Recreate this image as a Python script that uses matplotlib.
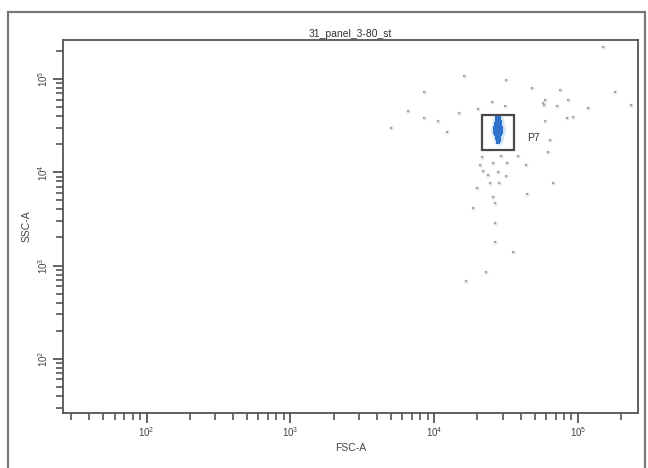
import matplotlib
matplotlib.use("Agg")
import matplotlib.pyplot as plt
from matplotlib.patches import Rectangle
from matplotlib.ticker import LogLocator, LogFormatterSciNotation, NullFormatter

plt.rcParams['font.family'] = ['Liberation Sans', 'DejaVu Sans']

title = "31_panel_3-80_st"
x_label = "FSC-A"
y_label = "SSC-A"
gate_name = "P7"

# axis range (linear FSC/SSC values, log display)
axis_min = 26.2
axis_max = 262144

# gray (ungated) events
gray_fsc = [16150, 31600, 8510, 6580, 8510, 10650, 12300, 5020, 14900, 20200,
            25300, 31100, 149700, 48000, 75100, 181300, 59100, 85400, 58200, 71600,
            117700, 234300, 84100, 92500, 59100, 64000, 62000, 21600, 29200, 38300,
            25700, 32200, 43600, 20900, 21900, 23700, 27900, 31600, 24500, 28300,
            67200, 19900, 44300, 25700, 26500, 18600, 26500, 26500, 35400, 23000,
            16700, 57300]
gray_ssc = [107700, 97700, 72600, 45400, 38200, 35500, 27000, 29800, 43200, 47700,
            56700, 51400, 220500, 80100, 76300, 72600, 59600, 59600, 52700, 51400,
            48900, 52700, 38200, 39200, 35500, 22200, 16500, 14600, 14900, 14900,
            12600, 12600, 12000, 12000, 10300, 9350, 10070, 9120, 7670, 7670,
            7670, 6780, 5850, 5430, 4680, 4140, 2860, 1790, 1400, 852,
            683, 55300]

# P7 (gated) events
p7_fsc = [27420, 28310,
          27420, 27860, 28310,
          27420, 27860, 28310, 28770,
          26980, 27860, 28310,
          26980, 27420, 27860, 28770,
          26550, 27420, 28310, 29230,
          26550, 26980, 27860, 28770, 29230,
          26550, 27420, 27860, 28310, 29230,
          26980, 27860, 28770,
          27420, 27860, 28310,
          27420, 28310,
          27860, 28310,
          27860]
p7_ssc = [38200, 38200,
          36360, 36360, 36360,
          34600, 34600, 34600, 34600,
          32940, 32940, 32940,
          31350, 31350, 31350, 31350,
          29840, 29840, 29840, 29840,
          28400, 28400, 28400, 28400, 28400,
          27030, 27030, 27030, 27030, 27030,
          25720, 25720, 25720,
          24490, 24490, 24490,
          23300, 23300,
          22180, 22180,
          21100]

# gate rectangle (FSC range, SSC range)
gate_fsc = [21550, 35960]
gate_ssc = [17340, 41100]
label_pos = [44300, 23300]

fig = plt.figure(figsize=(6.48, 4.68), dpi=100)
ax = fig.add_axes([63/648, 1 - 413/468, (638-63)/648, (413-40)/468])

ax.set_xscale('log')
ax.set_yscale('log')
ax.set_xlim(axis_min, axis_max)
ax.set_ylim(axis_min, axis_max)

ax.scatter(gray_fsc, gray_ssc, s=9, marker='o', color='#e2e2e2', linewidths=0, zorder=2)
ax.scatter(gray_fsc, gray_ssc, s=3, marker='s', color='#a6a6a6', linewidths=0, zorder=2)
ax.scatter(p7_fsc, p7_ssc, s=45, marker='o', color='#c6def5', alpha=0.3, linewidths=0, zorder=3)
ax.scatter(p7_fsc, p7_ssc, s=8, marker='s', color='#2f72cc', linewidths=0, zorder=4)

ax.add_patch(Rectangle((gate_fsc[0], gate_ssc[0]), gate_fsc[1] - gate_fsc[0],
                       gate_ssc[1] - gate_ssc[0], fill=False, edgecolor='#4a4a4a',
                       linewidth=1.6, zorder=5))
ax.text(label_pos[0], label_pos[1], gate_name, fontsize=7.5, color='#333333',
        va='center', ha='left', zorder=6)

for s in ax.spines.values():
    s.set_color('#555555')
    s.set_linewidth(1.3)

ax.xaxis.set_major_locator(LogLocator(base=10, numticks=10))
ax.yaxis.set_major_locator(LogLocator(base=10, numticks=10))
ax.xaxis.set_minor_locator(LogLocator(base=10, subs=range(2, 10), numticks=20))
ax.yaxis.set_minor_locator(LogLocator(base=10, subs=range(2, 10), numticks=20))
ax.xaxis.set_major_formatter(LogFormatterSciNotation())
ax.yaxis.set_major_formatter(LogFormatterSciNotation())
ax.xaxis.set_minor_formatter(NullFormatter())
ax.yaxis.set_minor_formatter(NullFormatter())

ax.tick_params(which='major', direction='out', length=7, width=1.3, color='#555555',
               labelsize=7, labelcolor='#444444', pad=2)
ax.tick_params(which='minor', direction='out', length=5, width=1.2, color='#555555')
for lab in ax.get_yticklabels():
    lab.set_rotation(90)
    lab.set_va('center')

ax.set_title(title, fontsize=7.5, color='#333333', pad=2)
ax.set_xlabel(x_label, fontsize=7.5, color='#444444', labelpad=3)
ax.set_ylabel(y_label, fontsize=7.5, color='#444444', labelpad=4)

# outer frame of the plot window
fig.add_artist(Rectangle((8/648, -0.02), (645-8)/648, 1 - 12/468 + 0.02,
                         transform=fig.transFigure, fill=False,
                         edgecolor='#777777', linewidth=1.6))

fig.savefig("out.png", dpi=100)
